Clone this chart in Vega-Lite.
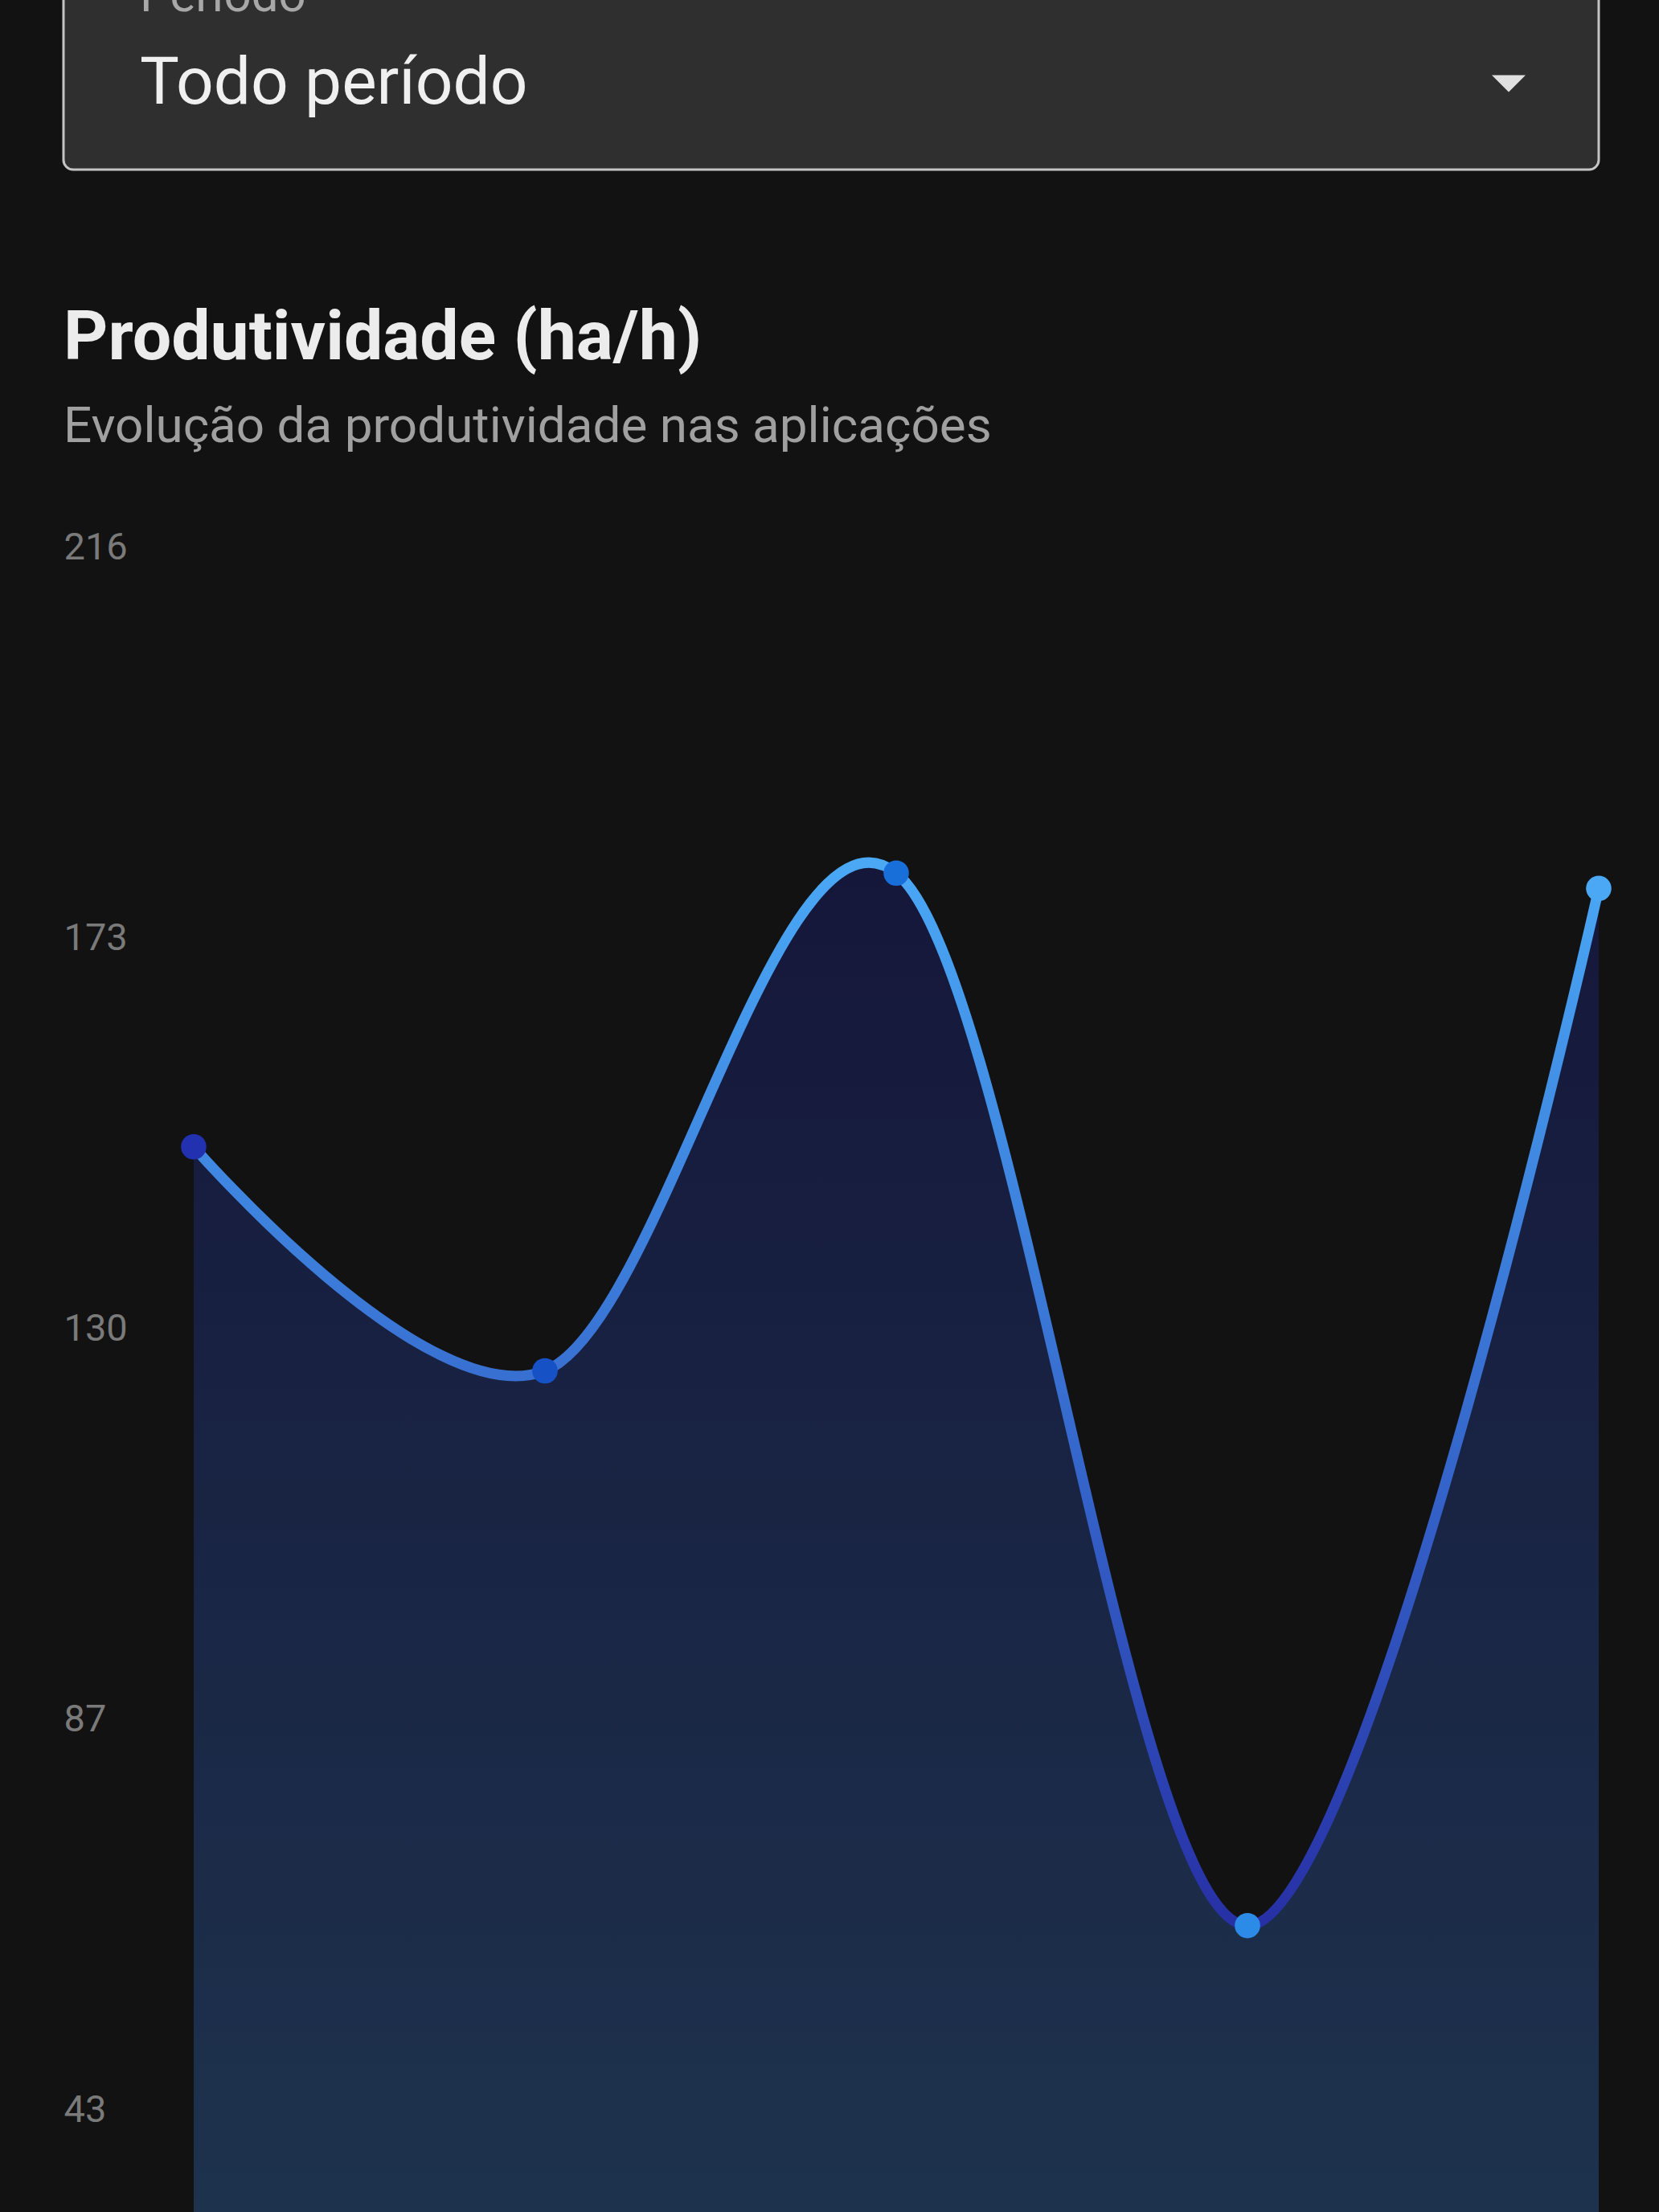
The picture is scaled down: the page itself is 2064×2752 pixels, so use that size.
{
  "$schema": "https://vega.github.io/schema/vega-lite/v6.json",
  "background": "#121212",
  "padding": {"left": 77, "top": -36, "right": 77, "bottom": 0},
  "autosize": {"type": "pad"},
  "config": {"view": {"stroke": null}, "font": "Roboto", "concat": {"spacing": 165}},
  "vconcat": [
    {
      "width": 1910,
      "height": 230,
      "view": {"fill": "#2f2f2f", "stroke": "#c4c4c4", "strokeWidth": 3, "cornerRadius": 12},
      "data": {"values": [{"periodo": "Todo período", "campo": "Período"}]},
      "layer": [
        {
          "mark": {"type": "text", "align": "left", "baseline": "alphabetic", "fontSize": 60, "color": "#a8a8a8", "font": "Roboto"},
          "encoding": {"text": {"field": "campo"}, "x": {"value": 95}, "y": {"value": 33}}
        },
        {
          "mark": {"type": "text", "align": "left", "baseline": "middle", "fontSize": 82, "color": "#f0f0f0", "font": "Roboto"},
          "encoding": {"text": {"field": "periodo"}, "x": {"value": 95}, "y": {"value": 123}}
        },
        {
          "mark": {"type": "point", "shape": "M-1,-0.5L1,-0.5L0,0.5Z", "size": 1764, "filled": true, "color": "#e0e0e0", "opacity": 1},
          "encoding": {"x": {"value": 1798}, "y": {"value": 123}}
        }
      ]
    },
    {
      "width": 1910,
      "height": 2071,
      "title": {
        "text": "Produtividade (ha/h)",
        "subtitle": "Evolução da produtividade nas aplicações",
        "anchor": "start",
        "frame": "bounds",
        "font": "Roboto",
        "fontSize": 86,
        "fontWeight": "bold",
        "color": "#ececec",
        "subtitleFont": "Roboto",
        "subtitleFontSize": 62,
        "subtitleColor": "#a0a0a0",
        "subtitlePadding": 36,
        "offset": 94
      },
      "data": {
        "values": [
          {"aplicacao": 1, "produtividade": 149.9},
          {"aplicacao": 2, "produtividade": 125.1},
          {"aplicacao": 3, "produtividade": 180.2},
          {"aplicacao": 4, "produtividade": 63.7},
          {"aplicacao": 5, "produtividade": 178.5}
        ]
      },
      "encoding": {
        "x": {"field": "aplicacao", "type": "quantitative", "scale": {"domain": [0.62929, 5], "nice": false, "zero": false}, "axis": null},
        "y": {
          "field": "produtividade",
          "type": "quantitative",
          "scale": {"domain": [32, 216.25], "zero": false, "nice": false},
          "axis": {
            "values": [43.25, 86.5, 129.75, 173, 216.25],
            "format": ".0f",
            "labelAlign": "left",
            "labelBaseline": "middle",
            "labelPadding": 0,
            "ticks": false,
            "tickSize": 0,
            "domain": false,
            "grid": false,
            "title": null,
            "labelFont": "Roboto",
            "labelFontSize": 47,
            "labelColor": "#7a7a7a"
          }
        }
      },
      "layer": [
        {
          "mark": {
            "type": "area",
            "interpolate": "cardinal",
            "clip": true,
            "color": {"gradient": "linear", "x1": 0, "y1": 0, "x2": 0, "y2": 1,
              "stops": [{"offset": 0, "color": "#15173a"}, {"offset": 1, "color": "#1f3852"}]}
          }
        },
        {
          "mark": {
            "type": "line",
            "interpolate": "cardinal",
            "strokeWidth": 13,
            "strokeCap": "round",
            "color": {"gradient": "linear", "x1": 0, "y1": 0, "x2": 0, "y2": 1,
              "stops": [
                {"offset": 0, "color": "#4aa8f5"},
                {"offset": 0.3, "color": "#3f86e0"},
                {"offset": 0.6, "color": "#3462c8"},
                {"offset": 1, "color": "#2730a5"}
              ]}
          }
        },
        {
          "mark": {"type": "point", "filled": true, "size": 1000, "opacity": 1},
          "encoding": {
            "color": {"field": "aplicacao", "type": "quantitative", "scale": {"domain": [1, 5], "range": ["#2231b0", "#4aa8f5"]}, "legend": null}
          }
        }
      ]
    }
  ]
}
